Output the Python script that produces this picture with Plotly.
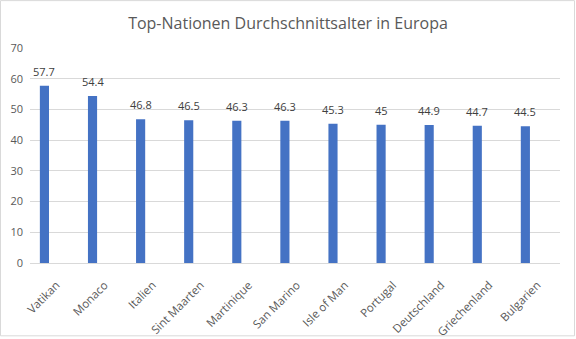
import plotly.graph_objects as go

countries = ["Vatikan", "Monaco", "Italien", "Sint Maarten", "Martinique", "San Marino",
             "Isle of Man", "Portugal", "Deutschland", "Griechenland", "Bulgarien"]
ages = [57.7, 54.4, 46.8, 46.5, 46.3, 46.3, 45.3, 45, 44.9, 44.7, 44.5]
y_ticks = [0, 10, 20, 30, 40, 50, 60, 70]

W, H = 576, 339
ml, mr, mt, mb = 30, 16, 48, 75.5
pw, ph = W - ml - mr, H - mt - mb

fig = go.Figure(go.Bar(
    x=countries, y=ages,
    marker=dict(color="#4472C4", line=dict(width=0)),
    width=0.19,
    cliponaxis=False,
))

for c, v in zip(countries, ages):
    fig.add_annotation(x=c, y=v, text=f"{v:g}", showarrow=False, yanchor="bottom",
                       yshift=5, font=dict(family="Open Sans", size=11, color="#404040"))

fig.update_layout(
    width=W, height=H,
    margin=dict(l=ml, r=mr, t=mt, b=mb, autoexpand=False),
    paper_bgcolor="white", plot_bgcolor="white",
    title=dict(text="Top-Nationen Durchschnittsalter in Europa", x=0.5, xref="container",
               y=1 - 23 / H, yref="container", xanchor="center", yanchor="middle",
               font=dict(family="Open Sans", size=16, color="#595959")),
    xaxis=dict(range=[-0.30, 10.72], tickangle=-45, showgrid=False,
               showline=True, linecolor="#d9d9d9", linewidth=1, ticks="",
               ticklabelshift=12, ticklabelstandoff=10,
               tickfont=dict(family="Open Sans", size=11.5, color="#595959")),
    yaxis=dict(range=[0, 70], tickvals=y_ticks, showgrid=True, gridcolor="#d9d9d9",
               gridwidth=1, zeroline=False, showline=False, ticks="",
               ticklabelstandoff=6,
               tickfont=dict(family="Open Sans", size=11, color="#595959")),
    showlegend=False,
    shapes=[dict(type="rect", xref="paper", yref="paper",
                 x0=(0.5 - ml) / pw, x1=(574.5 - ml) / pw,
                 y0=(H - 336.5 - mb) / ph, y1=(H - 0.5 - mb) / ph,
                 line=dict(color="#d9d9d9", width=1), fillcolor="rgba(0,0,0,0)",
                 layer="below")],
)

fig.write_html("out.html")
